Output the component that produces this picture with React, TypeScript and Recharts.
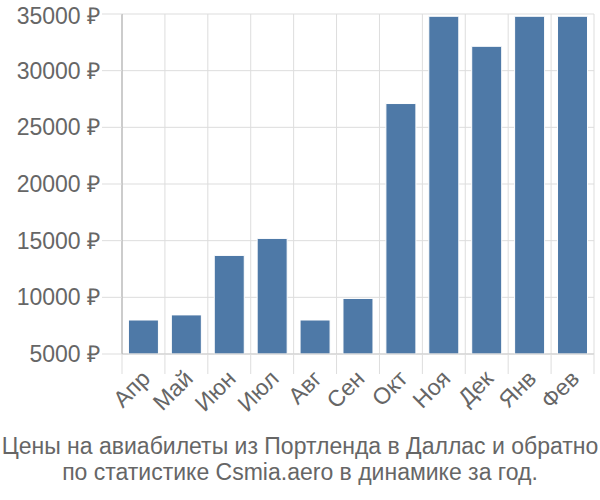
import { BarChart, Bar, XAxis, YAxis, CartesianGrid } from "recharts";

const months = ["Апр", "Май", "Июн", "Июл", "Авг", "Сен", "Окт", "Ноя", "Дек", "Янв", "Фев"];
const prices = [8000, 8450, 13700, 15200, 8000, 9900, 27100, 34800, 32150, 34800, 34800];
const yTicks = [5000, 10000, 15000, 20000, 25000, 30000, 35000];
const titleLines = [
  "Цены на авиабилеты из Портленда в Даллас и обратно",
  "по статистике Csmia.aero в динамике за год.",
];

const data = months.map((m, i) => ({ month: m, price: prices[i] }));

const FONT = '"Liberation Sans", Arial, sans-serif';
const W = 600;
const H = 430;
const LEFT = 122;
const RIGHT = 6;
const BAND = (W - LEFT - RIGHT) / months.length;

function MonthTick(props: any) {
  const { x, y, payload, index } = props;
  const left = x - BAND / 2;
  return (
    <g>
      <line x1={left} y1={y} x2={left} y2={y + 20} stroke="#ddd" />
      {index === months.length - 1 && (
        <line x1={x + BAND / 2} y1={y} x2={x + BAND / 2} y2={y + 20} stroke="#ddd" />
      )}
      <text
        transform={`translate(${x + 8}, ${y + 26}) rotate(-45)`}
        textAnchor="end"
        fill="#666"
        fontSize={23}
        fontFamily={FONT}
      >
        {payload.value}
      </text>
    </g>
  );
}

export default function App() {
  return (
    <div
      style={{
        position: "absolute",
        left: 0,
        top: 0,
        width: 600,
        height: 500,
        background: "#fff",
        fontFamily: FONT,
      }}
    >
      <BarChart
        width={W}
        height={H}
        data={data}
        margin={{ top: 14, right: RIGHT, bottom: 0, left: 0 }}
        barCategoryGap="15%"
      >
        <CartesianGrid
          stroke="#ddd"
          verticalCoordinatesGenerator={({ offset }: any) =>
            months
              .map((_, i) => offset.left + (i * offset.width) / months.length)
              .concat([offset.left + offset.width])
          }
        />
        <XAxis
          dataKey="month"
          height={76}
          tickSize={0}
          tickMargin={0}
          tickLine={false}
          axisLine={{ stroke: "#ccc" }}
          interval={0}
          tick={<MonthTick />}
        />
        <YAxis
          width={LEFT}
          domain={[5000, 35000]}
          ticks={yTicks}
          tickSize={20}
          tickMargin={2}
          tickLine={{ stroke: "#ddd" }}
          axisLine={{ stroke: "#aaa" }}
          tickFormatter={(v: number) => `${v} ₽`}
          tick={{ fill: "#666", fontSize: 23, fontFamily: FONT }}
        />
        <Bar dataKey="price" fill="#4e79a7" stroke="#fff" strokeWidth={1} isAnimationActive={false} />
      </BarChart>
      <div
        style={{
          position: "absolute",
          top: 433,
          left: 0,
          width: 600,
          textAlign: "center",
          fontSize: 23,
          lineHeight: "26px",
          color: "#666",
        }}
      >
        {titleLines.map((t) => (
          <div key={t} style={{ whiteSpace: "nowrap" }}>
            {t}
          </div>
        ))}
      </div>
    </div>
  );
}
